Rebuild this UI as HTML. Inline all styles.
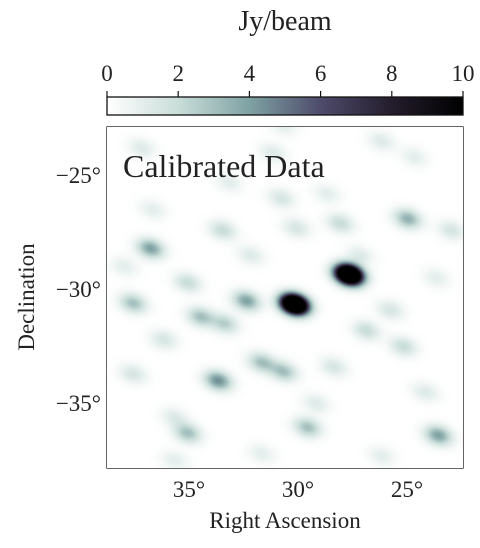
<!DOCTYPE html>
<html><head><meta charset="utf-8"><style>
body{margin:0;background:#fff;width:480px;height:548px;overflow:hidden;font-family:"Liberation Serif",serif;}
#wrap{position:relative;width:480px;height:548px;}
.t{position:absolute;font-size:22px;color:#222;white-space:nowrap;}
canvas{position:absolute;left:107px;top:127px;}
</style></head><body>
<div id="wrap">
<div class="t" style="left:0;width:570px;text-align:center;top:6px;font-size:28px;">Jy/beam</div>
<svg id="svg" width="480" height="548" style="position:absolute;left:0;top:0">
<defs><linearGradient id="cg" x1="0" x2="1" y1="0" y2="0">
<stop offset="0" stop-color="#ffffff"/><stop offset="0.2" stop-color="#c9ddd9"/><stop offset="0.4" stop-color="#7fa2a3"/><stop offset="0.6" stop-color="#4e4b6b"/><stop offset="0.8" stop-color="#241d2c"/><stop offset="1" stop-color="#000"/></linearGradient></defs>
<rect x="107" y="97" width="356" height="18" fill="url(#cg)" stroke="#111" stroke-width="1.3"/>
</svg>
<canvas id="cv" width="356" height="341"></canvas>
<div class="t" style="left:107px;width:356px;text-align:center;top:508px;font-size:23px;">Right Ascension</div>
<div class="t" style="left:-48px;top:284px;transform:rotate(-90deg);width:150px;text-align:center;font-size:23px;">Declination</div>
<div class="t" style="left:123px;top:148px;font-size:32px;">Calibrated Data</div>
</div>
<script>
const cbTicks=[0,2,4,6,8,10];
const xTicks=[35,30,25];
const yTicks=[-25,-30,-35];
const srcRA=[27.5,30.0,36.6,24.8,32.2,37.4,34.3,33.2,33.5,31.5,30.5,34.9,29.4,23.4,27.9,29.9,30.6,33.3,34.9,26.7,25.0,36.0,28.2,37.4,25.6,22.8,37.0,31.0,26.0,35.5,33.0,28.5,24.5,36.5,32.0,27.0,23.5,29.0,35.5,26.0,31.5,24.0,37.8,30.5];
const srcDec=[-29.35,-30.65,-28.2,-26.9,-30.5,-30.6,-31.2,-31.5,-34.0,-33.2,-33.6,-36.3,-36.05,-36.4,-27.1,-27.3,-26.0,-27.4,-29.7,-31.8,-32.5,-32.2,-33.4,-33.7,-30.9,-27.4,-23.8,-24.0,-23.5,-35.6,-25.3,-25.8,-24.2,-26.5,-28.5,-28.5,-29.5,-35.0,-37.5,-37.3,-37.2,-34.5,-29.0,-22.8];
const srcAmp=[20,20,4,3.5,4,3,3,2.5,4.5,3,3,3,3,4,2,1.5,1.5,2,2,2,2,1.5,1.5,1.5,1.5,1.5,1.2,1.2,1.2,1.2,1,1,1,1,1.2,1.2,1,1.2,1,1,1,1.2,1,1];
const NS='http://www.w3.org/2000/svg';
const svg=document.getElementById('svg');
const L=107,R=463,T=127,B=468;
const xs=ra=>294-(ra-30)*109/5;
const ys=d=>289-(d+30)*114/5;
const cbx=v=>107+v*35.6;
function el(tag,attrs){const e=document.createElementNS(NS,tag);for(const k in attrs)e.setAttribute(k,attrs[k]);svg.appendChild(e);return e;}
function txt(x,y,s,anchor,size){const e=el('text',{x:x,y:y,'text-anchor':anchor,'font-size':size,'font-family':'Liberation Serif, serif',fill:'#222'});e.textContent=s;return e;}
cbTicks.forEach(v=>{const x=cbx(v);
const l=el('line',{x1:x,x2:x,y1:91,y2:97,stroke:'#111','stroke-width':1.2});


const t=txt(x,81,String(v),'middle',23);

});
const cv=document.getElementById('cv'),ctx=cv.getContext('2d');
const W=cv.width,H=cv.height,img=ctx.createImageData(W,H);
const stops=[[0,[255,255,255]],[2,[201,221,217]],[4,[127,162,163]],[6,[78,75,107]],[8,[36,29,44]],[10,[0,0,0]]];
function cmap(v){v=Math.max(0,Math.min(10,v));for(let i=1;i<stops.length;i++){if(v<=stops[i][0]){const a=stops[i-1],b=stops[i],f=(v-a[0])/(b[0]-a[0]);return a[1].map((c,k)=>c+(b[1][k]-c)*f);}}return [0,0,0];}
const th=0.3,ct=Math.cos(th),st=Math.sin(th),sx=9.5,sy=6.5;
const px=srcRA.map(xs),py=srcDec.map(ys);
for(let j=0;j<H;j++)for(let i=0;i<W;i++){let v=0;const X=i+L,Y=j+T;
for(let k=0;k<px.length;k++){const dx=X-px[k],dy=Y-py[k];const u=dx*ct+dy*st,w=-dx*st+dy*ct;v+=srcAmp[k]*Math.exp(-0.5*(u*u/(sx*sx)+w*w/(sy*sy)));}
const c=cmap(v),o=(j*W+i)*4;img.data[o]=c[0];img.data[o+1]=c[1];img.data[o+2]=c[2];img.data[o+3]=255;}
ctx.putImageData(img,0,0);
const fr=el('rect',{x:L,y:T,width:R-L,height:B-T,fill:'none',stroke:'#111','stroke-width':1.3});


xTicks.forEach(v=>{const x=xs(v);
const l=el('line',{x1:x,x2:x,y1:B,y2:B-6,stroke:'#111','stroke-width':1.2});


const t=txt(x+4,497,v+'°','middle',23);

});
yTicks.forEach(v=>{const y=ys(v);
const l=el('line',{x1:L,x2:L+6,y1:y,y2:y,stroke:'#111','stroke-width':1.2});


const t=txt(101,y+8,'\u2212'+Math.abs(v)+'°','end',23);

});
const bb=el('rect',{x:123,y:420,width:37,height:31,fill:'#fff',stroke:'#111','stroke-width':1.2});


const be=el('ellipse',{cx:142,cy:435,rx:8.5,ry:6,fill:'#000',transform:'rotate(17 142 435)'});


</script>
</body></html>
